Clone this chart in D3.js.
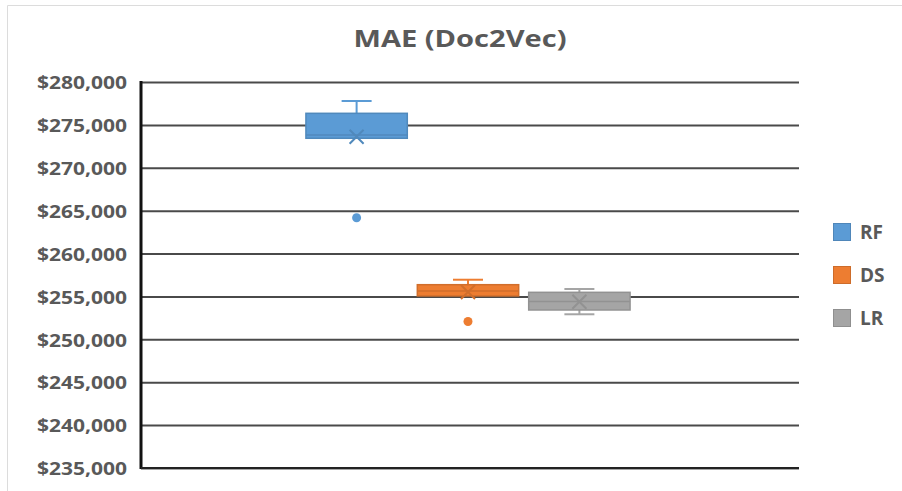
<!DOCTYPE html>
<html>
<head>
<meta charset="utf-8">
<script src="https://cdn.jsdelivr.net/npm/d3@7/dist/d3.min.js"></script>
<style>
  html, body { margin: 0; padding: 0; background: #fff; }
  svg { display: block; }
</style>
</head>
<body>
<svg id="chart" width="902" height="491"></svg>
<script>
// ---- data ----
const categories = ["RF", "DS", "LR"];
const colors = ["#5B9BD5", "#ED7D31", "#A5A5A5"];
const whiskerMax = [277785, 256950, 255870];
const q3Values = [276350, 256370, 255480];
const medianValues = [273820, 255640, 254400];
const q1Values = [273440, 255060, 253420];
const whiskerMin = [273440, 255060, 252920];
const meanValues = [273620, 255520, 254390];
const outliers = [[264180], [252080], []];
const yTicks = [235000, 240000, 245000, 250000, 255000, 260000, 265000, 270000, 275000, 280000];
const title = "MAE (Doc2Vec)";

// ---- layout ----
const svg = d3.select("#chart");
const plot = { left: 141, right: 799, top: 82, bottom: 468 };
const textColor = "#595959";
const font = "'Open Sans', 'Liberation Sans', sans-serif";

// frame
svg.append("path")
  .attr("d", "M7.5,491 L7.5,5.5 L902,5.5")
  .attr("fill", "none").attr("stroke", "#dcdcdc").attr("stroke-width", 1);

const y = d3.scaleLinear().domain([235000, 280000]).range([plot.bottom, plot.top]);
const xOuter = d3.scaleBand().domain(["Doc2Vec"]).range([plot.left, plot.right])
  .paddingOuter(0.515).align(0.494);
const xInner = d3.scaleBand().domain(categories)
  .range([xOuter("Doc2Vec"), xOuter("Doc2Vec") + xOuter.bandwidth()])
  .paddingInner(0.09).paddingOuter(0);

// gridlines
const yAxis = d3.axisLeft(y).tickValues(yTicks)
  .tickSize(-(plot.right - plot.left)).tickPadding(14)
  .tickFormat(d => "$" + d3.format(",")(d));
const gAxis = svg.append("g").attr("transform", `translate(${plot.left},0)`).call(yAxis);
gAxis.select(".domain").remove();
gAxis.selectAll(".tick line").attr("stroke", "#4a4a4a").attr("stroke-width", 2);
gAxis.selectAll(".tick text")
  .attr("fill", textColor).attr("font-family", font).attr("font-weight", 700)
  .attr("font-size", 18.5).attr("textLength", 90).attr("lengthAdjust", "spacingAndGlyphs")
  .attr("dy", "0.36em");

// axis lines
svg.append("line").attr("x1", plot.left).attr("x2", plot.left)
  .attr("y1", plot.top - 1).attr("y2", plot.bottom + 1)
  .attr("stroke", "#111").attr("stroke-width", 3);
svg.append("line").attr("x1", plot.left).attr("x2", plot.right)
  .attr("y1", plot.bottom).attr("y2", plot.bottom)
  .attr("stroke", "#222").attr("stroke-width", 2);

// boxes
categories.forEach((c, i) => {
  const g = svg.append("g");
  const x0 = xInner(c), bw = xInner.bandwidth(), cx = x0 + bw / 2;
  const col = colors[i];
  const stroke = d3.color(col).darker(0.35).formatHex();
  const capW = 30;
  // whiskers
  if (whiskerMax[i] > q3Values[i]) {
    g.append("line").attr("x1", cx).attr("x2", cx).attr("y1", y(q3Values[i])).attr("y2", y(whiskerMax[i]))
      .attr("stroke", col).attr("stroke-width", 2);
    g.append("line").attr("x1", cx - capW / 2).attr("x2", cx + capW / 2)
      .attr("y1", y(whiskerMax[i])).attr("y2", y(whiskerMax[i])).attr("stroke", col).attr("stroke-width", 2);
  }
  if (whiskerMin[i] < q1Values[i]) {
    g.append("line").attr("x1", cx).attr("x2", cx).attr("y1", y(q1Values[i])).attr("y2", y(whiskerMin[i]))
      .attr("stroke", col).attr("stroke-width", 2);
    g.append("line").attr("x1", cx - capW / 2).attr("x2", cx + capW / 2)
      .attr("y1", y(whiskerMin[i])).attr("y2", y(whiskerMin[i])).attr("stroke", col).attr("stroke-width", 2);
  }
  // box
  g.append("rect").attr("x", x0).attr("width", bw)
    .attr("y", y(q3Values[i])).attr("height", y(q1Values[i]) - y(q3Values[i]))
    .attr("fill", col).attr("stroke", stroke).attr("stroke-width", 1.5);
  // median
  g.append("line").attr("x1", x0).attr("x2", x0 + bw)
    .attr("y1", y(medianValues[i])).attr("y2", y(medianValues[i]))
    .attr("stroke", stroke).attr("stroke-width", 1.5);
  // mean X
  const my = y(meanValues[i]), s = 7;
  g.append("path").attr("d", `M${cx - s},${my - s} L${cx + s},${my + s} M${cx - s},${my + s} L${cx + s},${my - s}`)
    .attr("stroke", stroke).attr("stroke-width", 2).attr("fill", "none");
  // outliers
  outliers[i].forEach(v => {
    g.append("circle").attr("cx", cx).attr("cy", y(v)).attr("r", 4.5).attr("fill", col);
  });
});

// title
svg.append("text").attr("x", 460).attr("y", 47).attr("text-anchor", "middle")
  .attr("fill", textColor).attr("font-family", font).attr("font-weight", 700)
  .attr("font-size", 23).attr("textLength", 213).attr("lengthAdjust", "spacingAndGlyphs")
  .text(title);

// legend
const legendY = d3.scalePoint().domain(categories).range([232, 318]);
categories.forEach((c, i) => {
  const ly = legendY(c);
  svg.append("rect").attr("x", 833.5).attr("y", ly - 8.5).attr("width", 17).attr("height", 17)
    .attr("fill", colors[i]).attr("stroke", d3.color(colors[i]).darker(0.4).formatHex()).attr("stroke-width", 1);
  svg.append("text").attr("x", 860).attr("y", ly).attr("dy", "0.36em")
    .attr("fill", textColor).attr("font-family", font).attr("font-weight", 700)
    .attr("font-size", 19).text(c);
});
</script>
</body>
</html>
